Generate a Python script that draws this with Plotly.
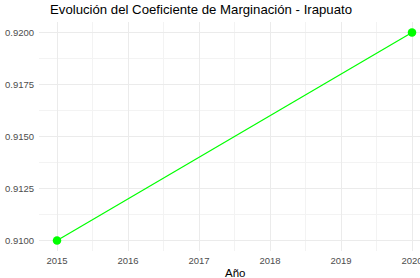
import plotly.graph_objects as go

years = [2015, 2020]
coef = [0.9100, 0.9200]
x_ticks = [2015, 2016, 2017, 2018, 2019, 2020]
y_ticks = [0.9100, 0.9125, 0.9150, 0.9175, 0.9200]
y_tick_labels = ["0.9100", "0.9125", "0.9150", "0.9175", "0.9200"]

title_text = "Evolución del Coeficiente de Marginación - Irapuato"
x_title = "Año"
y_title = "Coeficiente de Marginación"

W, H = 420, 278
ml, mr, mt, mb = 39, 0, 21.5, 26.5
pw = W - ml - mr
ph = H - mt - mb

fig = go.Figure()
fig.add_trace(go.Scatter(
    x=years, y=coef, mode="lines+markers",
    line=dict(color="#00FF00", width=1.2),
    marker=dict(color="#00FF00", size=8.5),
    cliponaxis=False, showlegend=False,
))

font_family = "Liberation Sans, Arial, sans-serif"

fig.update_layout(
    width=W, height=H,
    margin=dict(l=ml, r=mr, t=mt, b=mb, pad=0),
    paper_bgcolor="white", plot_bgcolor="white",
    template="none",
    font=dict(family=font_family),
    xaxis=dict(
        range=[2015 - 18 / 71, 2020 + 8 / 71],
        tickvals=x_ticks, ticktext=[str(v) for v in x_ticks],
        showgrid=True, gridcolor="#ebebeb", gridwidth=1,
        minor=dict(dtick=0.5, tick0=2014.5, showgrid=True, gridcolor="#f3f3f3", gridwidth=0.6),
        zeroline=False, showline=False,
        ticks="outside", ticklen=1, tickcolor="rgba(0,0,0,0)",
        tickfont=dict(size=9.5, color="#4d4d4d"),
        ticklabeloverflow="allow",
        automargin=False,
    ),
    yaxis=dict(
        range=[0.9100 - 0.0005, 0.9200 + 0.0005],
        tickvals=y_ticks, ticktext=y_tick_labels,
        showgrid=True, gridcolor="#ebebeb", gridwidth=1,
        minor=dict(dtick=0.00125, tick0=0.90875, showgrid=True, gridcolor="#f3f3f3", gridwidth=0.6),
        zeroline=False, showline=False,
        ticks="outside", ticklen=2, tickcolor="rgba(0,0,0,0)",
        tickfont=dict(size=9.5, color="#4d4d4d"),
        ticklabeloverflow="allow",
        automargin=False,
    ),
    annotations=[
        dict(text=title_text, xref="paper", yref="paper",
             x=(200.5 - ml) / pw, xanchor="center", y=(H - mb - 8.5) / ph, yanchor="middle",
             showarrow=False, font=dict(size=13.2, color="#000000")),
        dict(text=x_title, xref="paper", yref="paper",
             x=(234.5 - ml) / pw, xanchor="center", y=-(274 - (H - mb)) / ph, yanchor="middle",
             showarrow=False, font=dict(size=11.5, color="#000000")),
        dict(text=y_title, textangle=-90, xref="paper", yref="paper",
             x=(1 - ml) / pw, xanchor="right", y=0.5, yanchor="middle",
             showarrow=False, font=dict(size=11.5, color="#000000")),
    ],
)

fig.write_html("out.html")
